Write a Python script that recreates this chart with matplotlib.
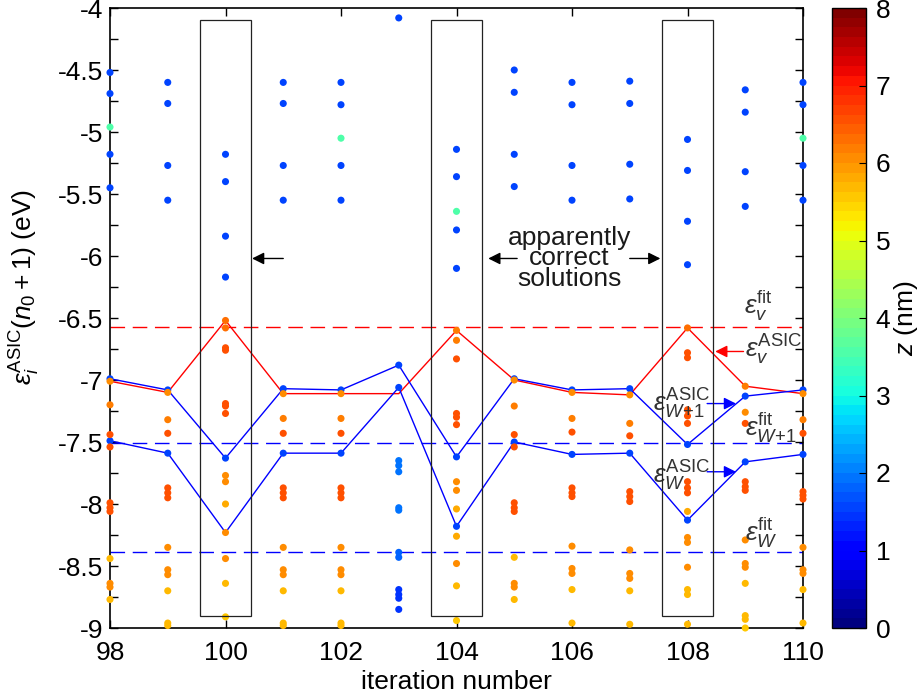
import matplotlib
matplotlib.use("Agg")
import matplotlib.pyplot as plt
import numpy as np
from matplotlib.patches import Rectangle
from matplotlib.colors import Normalize

plt.rcParams['font.family'] = ['Liberation Sans', 'DejaVu Sans']
plt.rcParams['mathtext.fontset'] = 'custom'
plt.rcParams['mathtext.rm'] = 'Liberation Sans'
plt.rcParams['mathtext.it'] = 'Liberation Sans:italic'
plt.rcParams['mathtext.bf'] = 'Liberation Sans:bold'
plt.rcParams['axes.unicode_minus'] = False

# ---- data -------------------------------------------------------------
iterations = [98, 99, 100, 101, 102, 103, 104, 105, 106, 107, 108, 109, 110]

# eigenvalues (eV) found at each iteration
levels = [
    [-4.52, -4.69, -4.96, -5.18, -5.45, -6.99, -7.01, -7.49, -7.20, -7.44, -7.54,
     -7.99, -8.03, -8.06, -8.44, -8.64, -8.67, -8.77],
    [-4.60, -4.77, -5.27, -5.55, -7.08, -7.10, -7.59, -7.32, -7.43, -7.87, -7.91,
     -7.95, -8.35, -8.53, -8.57, -8.70, -8.96, -8.98],
    [-5.18, -5.40, -5.84, -6.17, -7.63, -6.52, -8.23, -6.58, -6.74, -6.76, -7.19,
     -7.21, -7.27, -7.77, -7.82, -8.00, -8.44, -8.64, -8.91],
    [-4.60, -4.77, -5.27, -5.55, -7.07, -7.11, -7.59, -7.31, -7.43, -7.87, -7.91,
     -7.95, -8.35, -8.53, -8.57, -8.70, -8.96, -8.98],
    [-4.60, -4.78, -5.05, -5.27, -5.55, -7.08, -7.11, -7.59, -7.31, -7.43, -7.87,
     -7.91, -7.95, -8.35, -8.53, -8.57, -8.70, -8.96, -8.98],
    [-4.08, -6.88, -7.06, -7.65, -7.69, -7.74, -8.03, -8.05, -8.39, -8.43, -8.69,
     -8.73, -8.76, -8.85],
    [-5.14, -5.36, -5.64, -5.79, -6.10, -6.60, -7.62, -8.18, -6.68, -6.83, -7.27,
     -7.30, -7.36, -7.82, -7.89, -8.04, -8.26, -8.48, -8.66, -8.94],
    [-4.50, -4.68, -5.18, -5.44, -6.99, -7.00, -7.50, -7.21, -7.44, -7.54, -7.99,
     -8.03, -8.06, -8.43, -8.64, -8.67, -8.77],
    [-4.60, -4.78, -5.27, -5.55, -7.08, -7.10, -7.60, -7.31, -7.42, -7.87, -7.91,
     -7.94, -8.34, -8.52, -8.56, -8.69, -8.96],
    [-4.59, -4.77, -5.26, -5.54, -7.07, -7.12, -7.59, -7.35, -7.45, -7.90, -7.94,
     -7.98, -8.37, -8.56, -8.60, -8.70, -8.97],
    [-5.06, -5.31, -5.72, -6.07, -6.58, -7.52, -8.13, -6.78, -6.82, -7.24, -7.29,
     -7.35, -7.82, -7.87, -7.91, -8.06, -8.27, -8.31, -8.51, -8.69, -8.73, -8.97],
    [-4.66, -4.84, -5.32, -5.60, -7.05, -7.13, -7.66, -7.26, -7.35, -7.82, -7.86,
     -7.89, -8.29, -8.48, -8.51, -8.64, -8.90, -8.93, -9.00],
    [-4.60, -4.78, -5.05, -5.27, -5.55, -7.08, -7.11, -7.60, -7.32, -7.43, -7.90,
     -7.93, -7.96, -8.35, -8.53, -8.56, -8.69, -8.96],
]

# depth z (nm) of each state
depths = [
    [1.5, 1.5, 3.6, 1.5, 1.5, 1.5, 6.1, 1.5, 6.2, 6.5, 6.6,
     6.6, 6.5, 6.5, 5.7, 6.0, 6.0, 5.7],
    [1.5, 1.5, 1.5, 1.5, 1.5, 6.1, 1.5, 6.2, 6.6, 6.6, 6.6,
     6.6, 6.0, 6.0, 6.0, 5.7, 5.7, 5.7],
    [1.5, 1.5, 1.5, 1.5, 1.5, 6.3, 6.0, 6.3, 6.6, 6.6, 6.6,
     6.6, 6.5, 6.1, 6.1, 5.8, 6.0, 5.7, 5.5],
    [1.5, 1.5, 1.5, 1.5, 1.5, 6.1, 1.5, 6.2, 6.6, 6.6, 6.6,
     6.6, 6.0, 6.0, 6.0, 5.7, 5.7, 5.7],
    [1.5, 1.5, 3.6, 1.5, 1.5, 1.5, 6.1, 1.5, 6.2, 6.6, 6.6,
     6.6, 6.6, 6.0, 6.0, 6.0, 5.7, 5.7, 5.7],
    [1.5, 1.5, 1.5, 1.9, 1.9, 1.9, 1.9, 1.9, 1.8, 1.8, 1.4,
     1.4, 1.4, 1.4],
    [1.5, 1.5, 3.6, 1.5, 1.5, 6.2, 1.5, 1.5, 6.2, 6.6, 6.6,
     6.6, 6.5, 6.1, 6.1, 5.8, 5.8, 6.0, 5.7, 5.5],
    [1.5, 1.5, 1.5, 1.5, 1.5, 6.1, 1.5, 6.2, 6.5, 6.6, 6.6,
     6.5, 6.5, 5.7, 6.0, 6.0, 5.7],
    [1.5, 1.5, 1.5, 1.5, 1.5, 6.1, 1.5, 6.2, 6.6, 6.6, 6.6,
     6.6, 6.0, 6.0, 6.0, 5.7, 5.7],
    [1.5, 1.5, 1.5, 1.5, 1.5, 6.1, 1.5, 6.2, 6.6, 6.6, 6.6,
     6.6, 6.0, 6.0, 6.0, 5.7, 5.7],
    [1.5, 1.5, 1.5, 1.5, 6.3, 1.5, 1.5, 6.6, 6.6, 6.6, 6.6,
     6.6, 6.5, 6.5, 6.5, 5.8, 6.0, 6.0, 6.0, 5.7, 5.7, 5.7],
    [1.5, 1.5, 1.5, 1.5, 6.2, 1.5, 1.5, 6.1, 6.6, 6.6, 6.6,
     6.6, 6.0, 6.0, 6.0, 5.7, 5.7, 5.7, 5.6],
    [1.5, 1.5, 3.6, 1.5, 1.5, 1.5, 6.1, 1.5, 6.2, 6.6, 6.6,
     6.6, 6.6, 6.0, 6.0, 6.0, 5.7, 5.7],
]

# tracked ASIC levels
eps_v_asic = [-7.01, -7.10, -6.52, -7.11, -7.11, -7.11, -6.60, -7.00, -7.10, -7.12, -6.58, -7.05, -7.11]
eps_w1_asic = [-6.99, -7.08, -7.63, -7.07, -7.08, -6.88, -7.62, -6.99, -7.08, -7.07, -7.52, -7.13, -7.08]
eps_w_asic = [-7.49, -7.59, -8.23, -7.59, -7.59, -7.06, -8.18, -7.50, -7.60, -7.59, -8.13, -7.66, -7.60]

# fitted reference levels
eps_v_fit = -6.57
eps_w1_fit = -7.51
eps_w_fit = -8.39

highlighted = [100, 104, 108]
z_min, z_max = 0, 8

# ---- figure -----------------------------------------------------------
fig = plt.figure(figsize=(9.19, 7.0), dpi=100)
ax = fig.add_axes([110 / 919, 72 / 700, 693 / 919, 620 / 700])
cax = fig.add_axes([832 / 919, 72 / 700, 34 / 919, 620 / 700])

cmap = plt.get_cmap('jet', 64)
norm = Normalize(z_min, z_max)

xs = np.concatenate([[it] * len(lv) for it, lv in zip(iterations, levels)])
ys = np.concatenate(levels)
zs = np.concatenate(depths)

ax.plot(iterations, eps_v_asic, color='#ff0000', lw=1.0, zorder=2)
ax.plot(iterations, eps_w1_asic, color='#0000ff', lw=1.0, zorder=2)
ax.plot(iterations, eps_w_asic, color='#0000ff', lw=1.0, zorder=2)

sc = ax.scatter(xs, ys, c=zs, cmap=cmap, norm=norm, s=26, linewidths=0,
                zorder=3, clip_on=False)

dash = (10.5, 5.5)
ax.axhline(eps_v_fit, color='#ff0000', lw=1.0, dashes=dash, zorder=1)
ax.axhline(eps_w1_fit, color='#0000ff', lw=1.0, dashes=dash, zorder=1)
ax.axhline(eps_w_fit, color='#0000ff', lw=1.0, dashes=dash, zorder=1)

# boxes around the apparently correct iterations
for it in highlighted:
    ax.add_patch(Rectangle((it - 0.45, -8.9), 0.9, 4.8, fill=False,
                           edgecolor='#222222', lw=0.9, zorder=4))

arrow_k = dict(arrowstyle='-|>', color='k', lw=1.0, mutation_scale=18,
               shrinkA=0, shrinkB=0)
y_arrow = -6.02
ax.annotate('', xy=(100.46, y_arrow), xytext=(101.0, y_arrow), arrowprops=arrow_k)
ax.annotate('', xy=(104.55, y_arrow), xytext=(105.05, y_arrow), arrowprops=arrow_k)
ax.annotate('', xy=(107.53, y_arrow), xytext=(107.0, y_arrow), arrowprops=arrow_k)
ax.text(105.95, -6.02, 'apparently\ncorrect\nsolutions', ha='center', va='center',
        fontsize=19, linespacing=0.82, color='#1a1a1a')

fs = 19
ax.text(108.97, -6.40, r'$\varepsilon_v^{\rm fit}$', fontsize=fs, ha='left', va='center',
        color='#333333')
ax.text(108.99, -6.76, r'$\varepsilon_v^{\rm ASIC}$', fontsize=fs, ha='left', va='center',
        color='#333333')
ax.annotate('', xy=(108.48, -6.77), xytext=(108.97, -6.77),
            arrowprops=dict(arrowstyle='-|>', color='#ff0000', lw=1.0,
                            mutation_scale=18, shrinkA=0, shrinkB=0))
ax.text(107.40, -7.19, r'$\varepsilon_{W\!+\!1}^{\rm ASIC}$', fontsize=fs, ha='left',
        va='center', color='#333333')
ax.annotate('', xy=(108.84, -7.19), xytext=(108.34, -7.19),
            arrowprops=dict(arrowstyle='-|>', color='#0000ff', lw=1.0,
                            mutation_scale=18, shrinkA=0, shrinkB=0))
ax.text(107.40, -7.77, r'$\varepsilon_W^{\rm ASIC}$', fontsize=fs, ha='left',
        va='center', color='#333333')
ax.annotate('', xy=(108.84, -7.74), xytext=(108.34, -7.74),
            arrowprops=dict(arrowstyle='-|>', color='#0000ff', lw=1.0,
                            mutation_scale=18, shrinkA=0, shrinkB=0))
ax.text(108.99, -7.39, r'$\varepsilon_{W\!+\!1}^{\rm fit}$', fontsize=fs, ha='left',
        va='center', color='#333333')
ax.text(108.99, -8.23, r'$\varepsilon_W^{\rm fit}$', fontsize=fs, ha='left',
        va='center', color='#333333')

# ---- axes -------------------------------------------------------------
ax.set_xlim(98, 110)
ax.set_ylim(-9, -4)
ax.set_xticks(np.arange(98, 111, 2))
yt = np.arange(-9, -3.99, 0.25)
ax.set_yticks(yt)
ax.set_yticklabels(['%g' % v if abs(v * 2 - round(v * 2)) < 1e-6 else '' for v in yt])
ax.tick_params(direction='in', length=6, width=1, labelsize=19, top=True, right=True)
ax.tick_params(axis='x', pad=9)
ax.tick_params(axis='y', pad=5)
for sp in ax.spines.values():
    sp.set_linewidth(1.2)
ax.set_xlabel('iteration number', fontsize=19)
ax.xaxis.set_label_coords(0.5, -0.068)
ax.set_ylabel(r'$\varepsilon_i^{\rm ASIC}(n_0+1)$ (eV)', fontsize=19)
ax.yaxis.set_label_coords(-0.098, 0.55)

cb = fig.colorbar(sc, cax=cax, ticks=range(z_min, z_max + 1))
cb.outline.set_linewidth(1.0)
cax.tick_params(direction='in', length=5, labelsize=19, pad=7)
cb.set_label(r'$z$ (nm)', fontsize=19, labelpad=1)

fig.savefig('out.png', dpi=100)
